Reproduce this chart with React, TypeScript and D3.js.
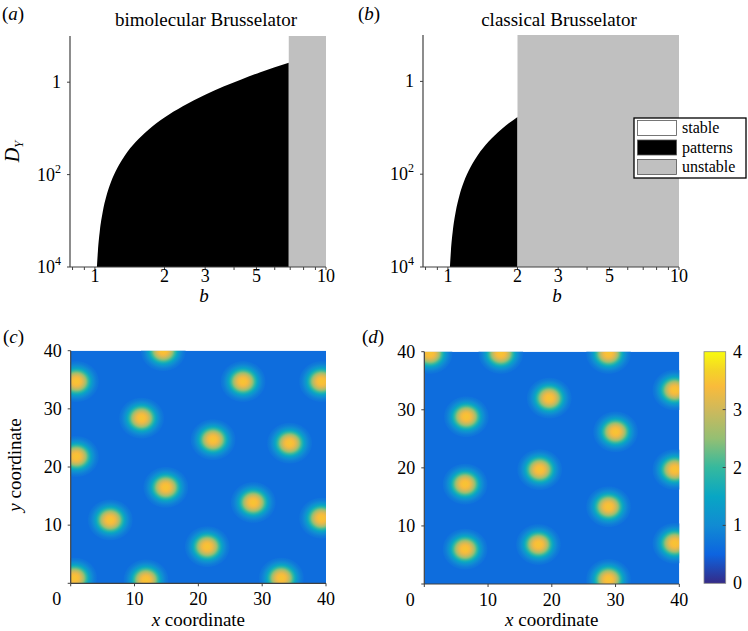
import * as d3 from "d3";

// ---- data ----
const bTicks = [1, 2, 3, 5, 10];
const bMinorTicks = [0.8, 0.9, 4, 6, 7, 8, 9];
const dyTicks = [1, 1e-2, 1e-4];
const dyTickLabels: [string, string][] = [["1", ""], ["10", "2"], ["10", "4"]];

// Turing boundary (upper edge of the black "patterns" region)
const boundaryB = [1.02, 1.03, 1.05, 1.08, 1.12, 1.17, 1.25, 1.35, 1.5, 1.7, 2, 2.4, 3, 3.6, 4.3, 5.2, 6, 6.9];
const boundaryD = [1.0e-4, 2.2e-4, 6.1e-4, 1.54e-3, 3.4e-3, 6.7e-3, 0.0139, 0.0262, 0.0505, 0.0923, 0.1716, 0.30, 0.536, 0.805, 1.15, 1.64, 2.1, 2.65];

// b where the unstable (grey) region starts
const hopfBimolecular = 6.9;
const hopfClassical = 2;

const legendLabels = ["stable", "patterns", "unstable"];
const legendColors = ["#ffffff", "#000000", "#c0c0c0"];

// spot centres (x, y) of the patterns in (c) and (d)
const spotsC: [number, number][] = [
  [14.5, 40], [0.9, 34.7], [27.0, 34.7], [39.3, 34.7], [11.1, 28.4], [22.3, 24.7],
  [34.3, 24.1], [0.9, 21.8], [14.9, 16.5], [28.6, 13.9], [6.2, 10.9], [39.3, 11.2],
  [21.4, 6.3], [0.6, 0.9], [11.8, 0.6], [33.0, 0.9],
];
const spotsD: [number, number][] = [
  [0.9, 39.7], [12.0, 39.7], [28.9, 39.7], [39.3, 33.4], [19.6, 32.0], [6.6, 28.8],
  [30.0, 26.2], [18.1, 19.7], [39.3, 19.7], [6.4, 17.2], [28.9, 13.3], [6.4, 6.0],
  [17.9, 6.8], [39.3, 7.0], [28.9, 0.8],
];
const coordTicks = [0, 10, 20, 30, 40];
const colorTicks = [0, 1, 2, 3, 4];
const backgroundValue = 0.62;
const spotPeakValue = 3.5;

const parulaColors = ["#352a87", "#0d64e0", "#118bd3", "#08a6c4", "#35b99e", "#94bf73", "#cfb95b", "#f9bb3b", "#f4d427", "#f9fb0e"];
const parulaPositions = [0, 0.125, 0.25, 0.375, 0.5, 0.625, 0.75, 0.85, 0.92, 1];

const FONT = "'Liberation Serif', 'Times New Roman', serif";
const AXIS = "#404040";

const parula = d3.scaleLinear<string>().domain(parulaPositions).range(parulaColors).interpolate(d3.interpolateRgb);
const colorOf = (v: number) => parula(v / 4);

function Letter({ x, y, ch }: { x: number; y: number; ch: string }) {
  return (
    <text x={x} y={y} fontSize={19}>
      (<tspan fontStyle="italic">{ch}</tspan>)
    </text>
  );
}

function StabilityPanel({ left, right, top, bottom, hopf, title, letter, letterX, showYLabel }: any) {
  const x = d3.scaleLog().domain([0.78, 10]).range([left, right]);
  const y = d3.scaleLog().domain([1e-4, 10]).range([bottom, top]);
  const pts = boundaryB.map((b, i) => [b, boundaryD[i]] as [number, number]).filter(p => p[0] <= hopf);
  const area = d3.area<[number, number]>()
    .x(d => x(d[0]))
    .y0(y(1e-4))
    .y1(d => y(d[1]))
    .curve(d3.curveMonotoneX);
  const cx = (left + right) / 2;
  return (
    <g>
      <Letter x={letterX} y={20} ch={letter} />
      <text x={cx + 8} y={26} fontSize={19} textAnchor="middle">{title}</text>
      <path d={area(pts) || ""} fill="#000" />
      <rect x={x(hopf)} y={top} width={right - x(hopf)} height={bottom - top} fill={legendColors[2]} />
      <line x1={left} x2={left} y1={top} y2={bottom} stroke={AXIS} strokeWidth={1.2} />
      <line x1={left} x2={right} y1={bottom} y2={bottom} stroke={AXIS} strokeWidth={1.2} />
      {bTicks.concat(bMinorTicks).map(t => (
        <line key={t} x1={x(t)} x2={x(t)} y1={bottom} y2={bottom + 3} stroke={AXIS} strokeWidth={1} />
      ))}
      {bTicks.map(t => (
        <text key={t} x={x(t)} y={bottom + 15} fontSize={18} textAnchor="middle">{t}</text>
      ))}
      <text x={cx + 6} y={bottom + 35} fontSize={19} fontStyle="italic" textAnchor="middle">b</text>
      {dyTicks.map((t, i) => (
        <g key={t}>
          <line x1={left - 3} x2={left} y1={y(t)} y2={y(t)} stroke={AXIS} strokeWidth={1} />
          <text x={left - 9} y={y(t) + 6} fontSize={18} textAnchor="end">
            {dyTickLabels[i][0]}
            {dyTickLabels[i][1] && <tspan dy={-8} fontSize={12}>{dyTickLabels[i][1]}</tspan>}
          </text>
        </g>
      ))}
      {showYLabel && (
        <text transform={`translate(19,${(top + bottom) / 2}) rotate(-90)`} fontSize={20} textAnchor="middle" fontStyle="italic">
          D<tspan dy={4} fontSize={13}>Y</tspan>
        </text>
      )}
    </g>
  );
}

function PatternPanel({ id, left, right, top, bottom, spots, letter, letterX, showYLabel }: any) {
  const x = d3.scaleLinear().domain([0, 40]).range([left, right]);
  const y = d3.scaleLinear().domain([0, 40]).range([bottom, top]);
  const R = 3.6;
  const rx = x(R) - x(0);
  const ry = y(0) - y(R);
  return (
    <g>
      <Letter x={letterX} y={343} ch={letter} />
      <defs>
        <clipPath id={`clip-${id}`}>
          <rect x={left} y={top} width={right - left} height={bottom - top} />
        </clipPath>
      </defs>
      <g clipPath={`url(#clip-${id})`}>
        <rect x={left} y={top} width={right - left} height={bottom - top} fill={colorOf(backgroundValue)} />
        {spots.map((s: [number, number], i: number) => (
          <ellipse key={i} cx={x(s[0])} cy={y(s[1])} rx={rx} ry={ry} fill="url(#spotGrad)" />
        ))}
      </g>
      <line x1={left} x2={left} y1={top} y2={bottom} stroke={AXIS} strokeWidth={1.2} />
      <line x1={left} x2={right} y1={bottom} y2={bottom} stroke={AXIS} strokeWidth={1.2} />
      {coordTicks.map(t => (
        <g key={t}>
          <line x1={x(t)} x2={x(t)} y1={bottom} y2={bottom + 3} stroke={AXIS} />
          <line x1={left - 3} x2={left} y1={y(t)} y2={y(t)} stroke={AXIS} />
          <text x={t === 0 ? x(t) - 14 : x(t)} y={bottom + 22} fontSize={18} textAnchor="middle">{t}</text>
          {t > 0 && (
            <text x={left - 9} y={y(t) + 6} fontSize={18} textAnchor="end">{t}</text>
          )}
        </g>
      ))}
      <text x={(left + right) / 2} y={626} fontSize={19} textAnchor="middle">
        <tspan fontStyle="italic">x</tspan> coordinate
      </text>
      {showYLabel && (
        <text transform={`translate(21,${(top + bottom) / 2 - 2}) rotate(-90)`} fontSize={19} textAnchor="middle">
          <tspan fontStyle="italic">y</tspan> coordinate
        </text>
      )}
    </g>
  );
}

export default function App() {
  // spot radial profile: flattened gaussian fall-off from the peak value to the background
  const profile = d3.range(0, 1.0001, 0.05).map(t => {
    const v = backgroundValue + (spotPeakValue - backgroundValue) * Math.exp(-((t * 2.4) ** 2.6) / 2.4);
    return { offset: t, color: colorOf(v), opacity: t >= 1 ? 0 : 1 };
  });
  const cbLeft = 704, cbRight = 725.7, cbTop = 351.7, cbBottom = 583.3;
  const cbY = d3.scaleLinear().domain([0, 4]).range([cbBottom, cbTop]);

  return (
    <div style={{ position: "fixed", left: 0, top: 0 }}>
      <svg width={748} height={631} fontFamily={FONT} style={{ display: "block", background: "#fff" }}>
        <defs>
          <radialGradient id="spotGrad">
            {profile.map((p, i) => (
              <stop key={i} offset={p.offset} stopColor={p.color} stopOpacity={p.opacity} />
            ))}
          </radialGradient>
          <linearGradient id="cbGrad" x1="0" y1="1" x2="0" y2="0">
            {parulaPositions.map((p, i) => (
              <stop key={i} offset={p} stopColor={parulaColors[i]} />
            ))}
          </linearGradient>
        </defs>

        <StabilityPanel left={70} right={326} top={36} bottom={267} hopf={hopfBimolecular}
          title="bimolecular Brusselator" letter="a" letterX={2} showYLabel />
        <StabilityPanel left={423} right={679} top={35} bottom={267} hopf={hopfClassical}
          title="classical Brusselator" letter="b" letterX={358} />

        {/* legend */}
        <rect x={634} y={118} width={112} height={60} fill="#fff" stroke="#000" strokeWidth={1.3} />
        {legendLabels.map((l, i) => (
          <g key={l}>
            <rect x={637.5} y={120.5 + i * 19.5} width={39} height={15} fill={legendColors[i]} stroke="#555" strokeWidth={0.8} />
            <text x={682} y={133 + i * 19.5} fontSize={16}>{l}</text>
          </g>
        ))}

        <PatternPanel id="c" left={70.7} right={326} top={350.7} bottom={583.3} spots={spotsC}
          letter="c" letterX={3} showYLabel />
        <PatternPanel id="d" left={424.3} right={679.3} top={351.7} bottom={584} spots={spotsD}
          letter="d" letterX={362} />

        {/* colour bar */}
        <rect x={cbLeft} y={cbTop} width={cbRight - cbLeft} height={cbBottom - cbTop} fill="url(#cbGrad)" stroke="#888" strokeWidth={0.8} />
        {colorTicks.map(t => (
          <g key={t}>
            {t > 0 && t < 4 && <line x1={cbRight - 3} x2={cbRight} y1={cbY(t)} y2={cbY(t)} stroke={AXIS} />}
            <text x={733} y={cbY(t) + 6} fontSize={18}>{t}</text>
          </g>
        ))}
      </svg>
    </div>
  );
}
